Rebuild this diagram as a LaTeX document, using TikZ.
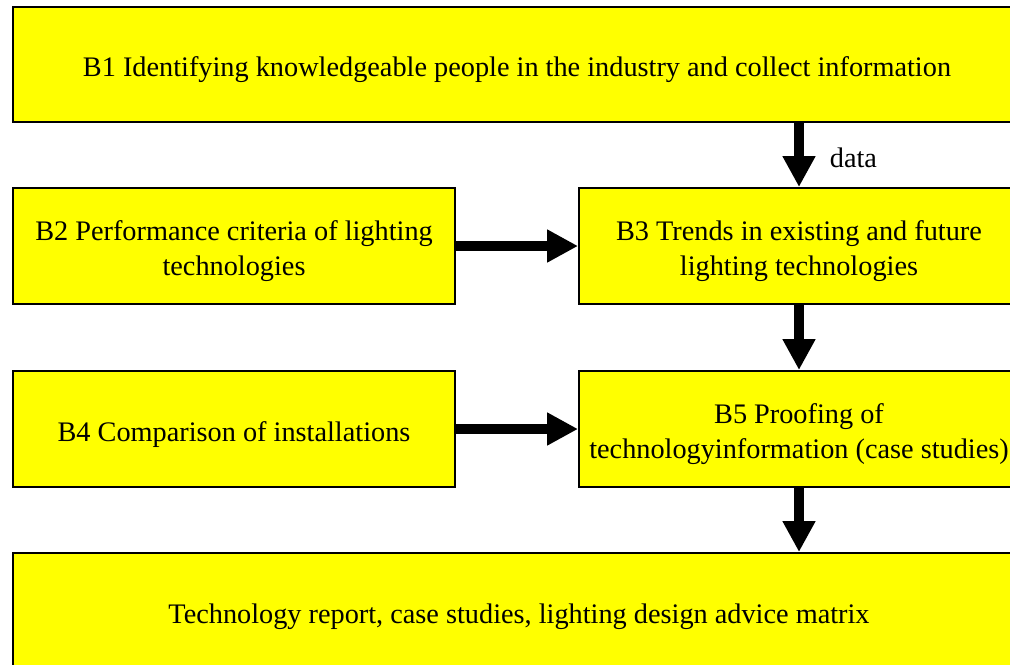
\documentclass[tikz,border=0pt]{standalone}
\usepackage{fontspec}
\setmainfont{Liberation Serif}
\usetikzlibrary{arrows.meta}
\definecolor{boxfill}{RGB}{255,255,0}
\newcommand{\boxtext}[1]{\raisebox{-0.1cm}[\height][\depth]{\begin{tabular}{@{}c@{}}#1\end{tabular}}}

\begin{document}
\begin{tikzpicture}[x=0.02cm,y=-0.02cm,
  every node/.style={draw,line width=0.04cm,fill=boxfill,inner sep=0pt,
    font=\fontsize{16.1}{19.9}\selectfont},
  flow/.style={line width=0.2cm,-{Triangle[length=0.62cm,width=0.62cm]}}]

  \useasboundingbox (0,0) rectangle (1010,664);
  \clip (0,0) rectangle (1010,664);

  % Specification of nodes (position, etc.)
  \node[minimum width=20.16cm,minimum height=2.3cm] (b1) at (517,64.5)
    {\boxtext{B1 Identifying knowledgeable people in the industry and collect information}};
  \node[minimum width=8.84cm,minimum height=2.32cm] (b2) at (234,246)
    {\boxtext{B2 Performance criteria of lighting\\technologies}};
  \node[minimum width=8.8cm,minimum height=2.32cm] (b3) at (799,246)
    {\boxtext{B3 Trends in existing and future\\lighting technologies}};
  \node[minimum width=8.84cm,minimum height=2.32cm] (b4) at (234,429)
    {\boxtext{B4 Comparison of installations}};
  \node[minimum width=8.8cm,minimum height=2.32cm] (b5) at (799,429)
    {\boxtext{B5 Proofing of\\technologyinformation (case studies)}};
  \node[minimum width=20.24cm,minimum height=2.34cm] (out) at (519,611.5)
    {\boxtext{Technology report, case studies, lighting design advice matrix}};

  \begin{scope}
    \tikzstyle{every node}=[right,font=\fontsize{16.1}{19.9}\selectfont]
    \draw[flow] (b1.south -| b3.north) -- node[pos=0.55,xshift=0.4cm] {data} (b3.north);
    \draw[flow] (b2) -- (b3);
    \draw[flow] (b3) -- (b5);
    \draw[flow] (b4) -- (b5);
    \draw[flow] (b5) -- (b5 |- out.north);
  \end{scope}

\end{tikzpicture}
\end{document}
